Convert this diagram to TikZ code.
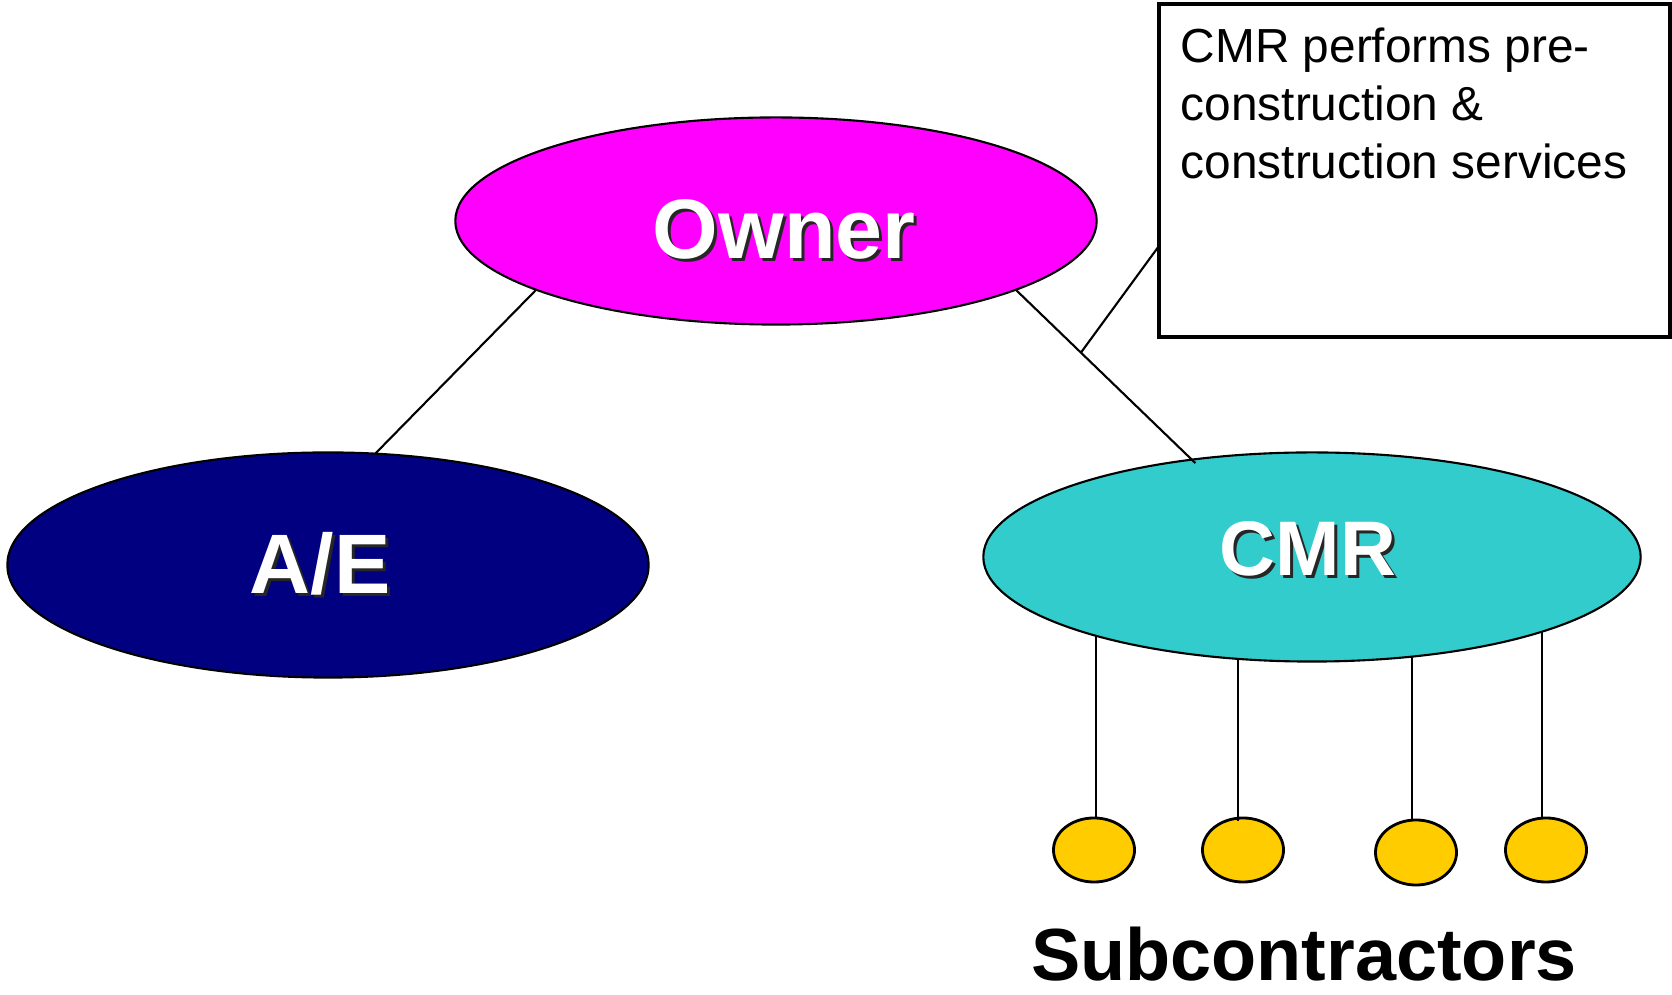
\documentclass[tikz,border=0pt]{standalone}
\usepackage{fontspec}
\setmainfont{Liberation Sans}
\usetikzlibrary{shapes.geometric,calc}
\definecolor{ownerpink}{HTML}{FF00FF}
\definecolor{aenavy}{HTML}{000080}
\definecolor{cmrteal}{HTML}{33CCCC}
\definecolor{subyellow}{HTML}{FFCC00}
% white bold label with a dark drop shadow
\newcommand{\shadowlabel}[4]{%
  \node[lblshadow, font=\fontsize{#4}{#4}\selectfont\bfseries] at ($(#1)+(3,3)$) {#3};
  \node[lbl, font=\fontsize{#4}{#4}\selectfont\bfseries] (#2) at (#1) {#3};}
\begin{document}
\begin{tikzpicture}[x=0.01cm, y=-0.01cm,
  party/.style={ellipse, draw=black, line width=0.6pt, inner sep=0pt, outer sep=0pt},
  subfirm/.style={ellipse, draw=black, line width=0.8pt, fill=subyellow,
    minimum width=0.81cm, minimum height=0.64cm, inner sep=0pt, outer sep=0pt},
  conn/.style={draw=black, line width=0.6pt},
  lbl/.style={text=white, anchor=base, inner sep=0pt},
  lblshadow/.style={text=black!85, anchor=base, inner sep=0pt},
  notebox/.style={draw=black, line width=1pt, minimum width=5.11cm, minimum height=3.33cm,
    inner sep=0pt, outer sep=0pt}]
\useasboundingbox (0,0) rectangle (1672,995);

% parties
\node[party, fill=ownerpink, minimum width=6.41cm, minimum height=2.07cm] (owner) at (776,221) {};
\node[party, fill=aenavy, minimum width=6.41cm, minimum height=2.25cm] (ae) at (328,565) {};
\node[party, fill=cmrteal, minimum width=6.57cm, minimum height=2.09cm] (cmr) at (1312,557) {};

\coordinate (ownerbase) at (784,259);
\coordinate (aebase) at (320,594);
\coordinate (cmrbase) at (1308,576);
\shadowlabel{ownerbase}{ownerlbl}{Owner}{24pt}
\shadowlabel{aebase}{aelbl}{A/E}{24pt}
\shadowlabel{cmrbase}{cmrlbl}{CMR}{22pt}

% callout box
\node[notebox] (note) at (1414.5,170.5) {};
\node[anchor=north west, inner sep=0pt, align=left,
  font=\fontsize{13.6pt}{16.5pt}\selectfont] (notetext) at (1180,27)
  {CMR performs pre-\\construction \&\\construction services};

% subcontractors
\node[subfirm] (sub1) at (1094,850) {};
\node[subfirm] (sub2) at (1243,850) {};
\node[subfirm, minimum height=0.65cm] (sub3) at (1416,852.5) {};
\node[subfirm] (sub4) at (1546,850) {};
\node[anchor=base, inner sep=0pt, font=\fontsize{21pt}{21pt}\selectfont\bfseries]
  (sublbl) at (1304,981) {Subcontractors};

% connectors
\draw[conn] (owner.196.7) -- (ae.67.2);
\draw[conn, shorten >=-0.05cm] (owner.344) -- coordinate[pos=0.37] (tap) (cmr.141);
\draw[conn] (tap) -- ($(note.north west)!0.727!(note.south west)$);

\draw[conn] (cmr.200.1) -- (cmr.200.1 |- sub1.north);
\draw[conn] (cmr.234.4) -- ($(cmr.234.4 |- sub2.north)+(0,3)$);
\draw[conn] (cmr.315.8) -- (cmr.315.8 |- sub3.north);
\draw[conn] (cmr.342.3) -- (cmr.342.3 |- sub4.north);
\end{tikzpicture}
\end{document}
